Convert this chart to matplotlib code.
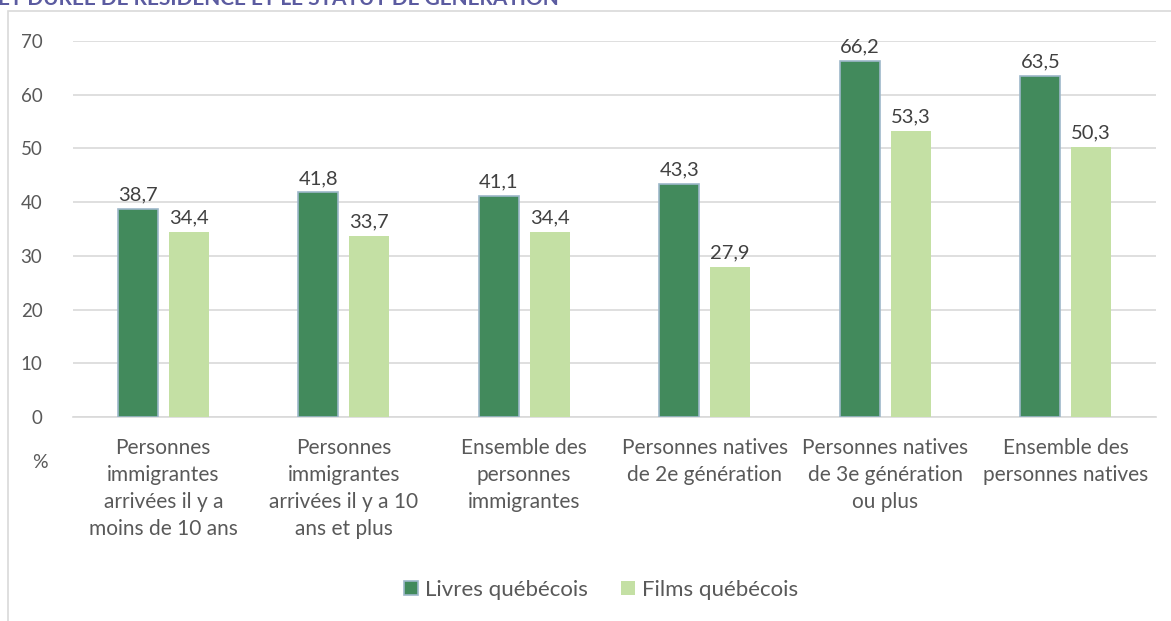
import matplotlib.pyplot as plt
from matplotlib.patches import Rectangle
import numpy as np

plt.rcParams['font.family'] = ['Lato', 'DejaVu Sans']

categories = [
    "Personnes\nimmigrantes\narrivées il y a\nmoins de 10 ans",
    "Personnes\nimmigrantes\narrivées il y a 10\nans et plus",
    "Ensemble des\npersonnes\nimmigrantes",
    "Personnes natives\nde 2e génération",
    "Personnes natives\nde 3e génération\nou plus",
    "Ensemble des\npersonnes natives",
]
livres = [38.7, 41.8, 41.1, 43.3, 66.2, 63.5]
films = [34.4, 33.7, 34.4, 27.9, 53.3, 50.3]
series_names = ["Livres québécois", "Films québécois"]
yticks = [0, 10, 20, 30, 40, 50, 60, 70]

dark = "#428a5c"
light = "#c4e0a4"
txt = "#595959"

fig = plt.figure(figsize=(11.71, 6.21), dpi=100)
ax = fig.add_axes([73 / 1171, 1 - 417 / 621, (1156 - 73) / 1171, (417 - 41) / 621])

x = np.arange(len(categories))
w = 0.222
off = 0.141
b1 = ax.bar(x - off, livres, w, color=dark, edgecolor="#9db7c9", linewidth=1.2,
            label=series_names[0], zorder=3)
b2 = ax.bar(x + off, films, w, color=light, edgecolor="none",
            label=series_names[1], zorder=3)

for bars, vals in ((b1, livres), (b2, films)):
    for rect, v in zip(bars, vals):
        ax.annotate(f"{v:.1f}".replace(".", ","),
                    (rect.get_x() + rect.get_width() / 2, v),
                    xytext=(0, 4), textcoords="offset points",
                    ha="center", va="bottom", fontsize=14.5, color="#404040")

ax.set_xlim(-0.5, len(categories) - 0.5)
ax.set_ylim(0, 70)
ax.set_yticks(yticks)
ax.set_yticklabels([str(t) for t in yticks])
ax.set_xticks(x)
ax.set_xticklabels(categories, fontsize=15, color=txt, linespacing=1.45)
ax.tick_params(axis="y", length=0, labelsize=13.5, labelcolor=txt, pad=22)
ax.tick_params(axis="x", length=0, pad=15)
ax.grid(axis="y", color="#d9d9d9", linewidth=1.2, zorder=0)
for s in ("top", "right", "left"):
    ax.spines[s].set_visible(False)
ax.spines["bottom"].set_color("#d9d9d9")
ax.spines["bottom"].set_linewidth(1.2)

fig.text(40 / 1171, 1 - 462 / 621, "%", fontsize=14, color=txt, ha="center", va="center")

# chart frame, partly outside the picture
fig.patches.append(Rectangle((8 / 1171, -0.1), 1.2, 1 - 11 / 621 + 0.1,
                             transform=fig.transFigure, fill=False,
                             edgecolor="#d9d9d9", linewidth=1.2))

# title cut off at the top, as in the source
fig.text(-2 / 1171, 1 + 1 / 621, "ET DURÉE DE RÉSIDENCE ET LE STATUT DE GÉNÉRATION",
         fontsize=15, fontweight="bold", color="#5b5ba0", ha="left", va="center")

fig.legend(loc="center", bbox_to_anchor=(601 / 1171, 1 - 590 / 621), ncol=2,
           frameon=False, fontsize=16, labelcolor=txt, handlelength=0.63,
           handleheight=0.63, handletextpad=0.3, columnspacing=1.5)

fig.savefig("out.png", dpi=100)
